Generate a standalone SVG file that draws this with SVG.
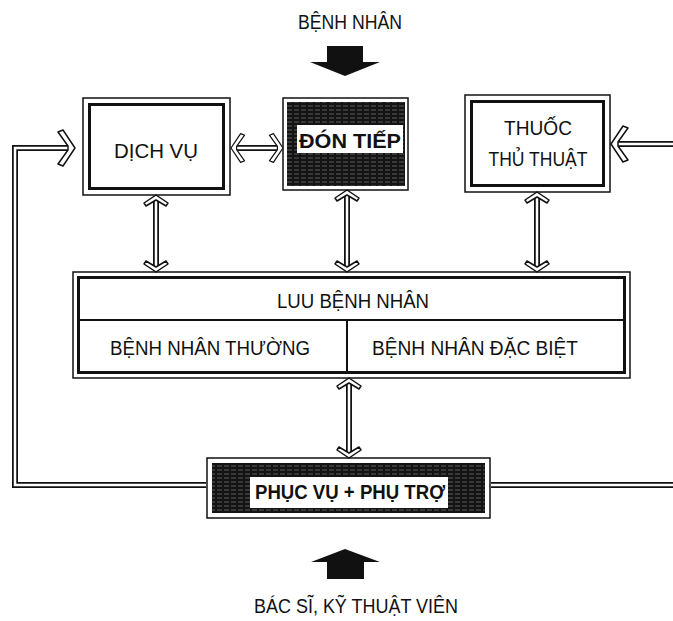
<svg xmlns="http://www.w3.org/2000/svg" xmlns:xlink="http://www.w3.org/1999/xlink" width="673" height="621" viewBox="0 0 673 621">
<style>
.t{font-family:"Liberation Sans",Arial,sans-serif;font-size:20px;fill:#111;text-anchor:middle}
.b{font-weight:bold}
.thin{fill:#fff;stroke:#111;stroke-width:1.5}
.thick{fill:none;stroke:#111;stroke-width:3}
.div{fill:none;stroke:#111;stroke-width:2}
.pipeO{fill:none;stroke:#111;stroke-width:6}
.pipeI{fill:none;stroke:#fff;stroke-width:2.5}
.head{fill:#fff;stroke:#111;stroke-width:1.5;stroke-linejoin:round}
.solid{fill:#111}
.dark{fill:url(#hatch);stroke:none}
.lbl{fill:#fff}
</style>
<defs>
<pattern id="hatch" width="7" height="4" patternUnits="userSpaceOnUse">
<rect width="7" height="4" fill="#141414"/>
<line x1="0" y1="2" x2="5" y2="2" stroke="#7a7a7a" stroke-width="0.7"/>
</pattern>
<path id="vh" class="head" d="M0,0 L12,8 L10,11 L0,5 L-10,11 L-12,8 Z"/>
<path id="hh" class="head" d="M0,0 L-12,-18 L-17,-16 L-7,-2 L-7,2 L-17,16 L-12,18 Z"/>
</defs>
<rect width="673" height="621" fill="#fff"/>

<g id="benh-nhan-in">
<text class="t" x="350" y="29" textLength="104" lengthAdjust="spacingAndGlyphs">BỆNH NHÂN</text>
<path class="solid" d="M327,46 H363 V62 H380 L345,76 L310,62 H327 Z"/>
</g>

<g id="dich-vu">
<rect class="thin" x="83" y="98" width="147" height="97"/>
<rect class="thick" x="89.5" y="104.5" width="134" height="84"/>
<text class="t" x="156" y="158" textLength="84" lengthAdjust="spacingAndGlyphs">DỊCH VỤ</text>
</g>

<g id="don-tiep">
<rect class="thin" x="283" y="98" width="125" height="92"/>
<rect class="dark" x="287" y="102" width="118" height="84"/>
<rect class="lbl" x="297" y="125" width="106" height="28"/>
<text class="t b" x="350" y="148" font-size="21" textLength="102" lengthAdjust="spacingAndGlyphs">ĐÓN TIẾP</text>
</g>

<g id="thuoc-thu-thuat">
<rect class="thin" x="465" y="95" width="145" height="97"/>
<rect class="thick" x="471.5" y="101.5" width="132" height="84"/>
<text class="t" x="538" y="135" textLength="68" lengthAdjust="spacingAndGlyphs">THUỐC</text>
<text class="t" x="538" y="166" textLength="99" lengthAdjust="spacingAndGlyphs">THỦ THUẬT</text>
</g>

<g id="luu-benh-nhan">
<rect class="thin" x="73" y="272" width="557" height="106"/>
<rect class="thick" x="78.5" y="277.5" width="546" height="95"/>
<line class="div" x1="78" y1="320" x2="625" y2="320"/>
<line class="div" x1="347" y1="320" x2="347" y2="373"/>
<text class="t" x="353" y="308" textLength="152" lengthAdjust="spacingAndGlyphs">LUU BỆNH NHÂN</text>
<text class="t" x="210" y="355" textLength="200" lengthAdjust="spacingAndGlyphs">BỆNH NHÂN THƯỜNG</text>
<text class="t" x="475" y="355" textLength="206" lengthAdjust="spacingAndGlyphs">BỆNH NHÂN ĐẶC BIỆT</text>
</g>

<g id="phuc-vu-phu-tro">
<rect class="thin" x="207" y="458" width="283" height="60"/>
<rect class="dark" x="212" y="463" width="273" height="50"/>
<rect class="lbl" x="250" y="477" width="198" height="31"/>
<text class="t b" x="350" y="499" textLength="190" lengthAdjust="spacingAndGlyphs">PHỤC VỤ + PHỤ TRỢ</text>
</g>

<g id="bac-si-in">
<path class="solid" d="M345,549 L380,562 H364 V579 H327 V562 H311 Z"/>
<text class="t" x="356" y="613" textLength="204" lengthAdjust="spacingAndGlyphs">BÁC SĨ, KỸ THUẬT VIÊN</text>
</g>

<g id="connectors">
<path class="pipeO" d="M206,485 H15 V148 H69"/>
<path class="pipeI" d="M206,485 H15 V148 H69"/>
<use xlink:href="#hh" transform="translate(75,148)"/>

<path class="pipeO" d="M237,148 H277"/>
<path class="pipeI" d="M237,148 H277"/>
<use xlink:href="#hh" transform="translate(231,148) scale(-0.8,0.8)"/>
<use xlink:href="#hh" transform="translate(283,148) scale(0.8,0.8)"/>

<path class="pipeO" d="M618,144 H673"/>
<path class="pipeI" d="M618,144 H673"/>
<use xlink:href="#hh" transform="translate(611,144) scale(-1,1)"/>

<path class="pipeO" d="M491,485 H673"/>
<path class="pipeI" d="M491,485 H673"/>

<path class="pipeO" d="M156,199 V268"/>
<path class="pipeI" d="M156,199 V268"/>
<use xlink:href="#vh" transform="translate(156,195)"/>
<use xlink:href="#vh" transform="translate(156,272) rotate(180)"/>

<path class="pipeO" d="M347,194 V268"/>
<path class="pipeI" d="M347,194 V268"/>
<use xlink:href="#vh" transform="translate(347,190)"/>
<use xlink:href="#vh" transform="translate(347,272) rotate(180)"/>

<path class="pipeO" d="M537,196 V268"/>
<path class="pipeI" d="M537,196 V268"/>
<use xlink:href="#vh" transform="translate(537,192)"/>
<use xlink:href="#vh" transform="translate(537,272) rotate(180)"/>

<path class="pipeO" d="M349,382 V454"/>
<path class="pipeI" d="M349,382 V454"/>
<use xlink:href="#vh" transform="translate(349,378)"/>
<use xlink:href="#vh" transform="translate(349,458) rotate(180)"/>
</g>
</svg>
